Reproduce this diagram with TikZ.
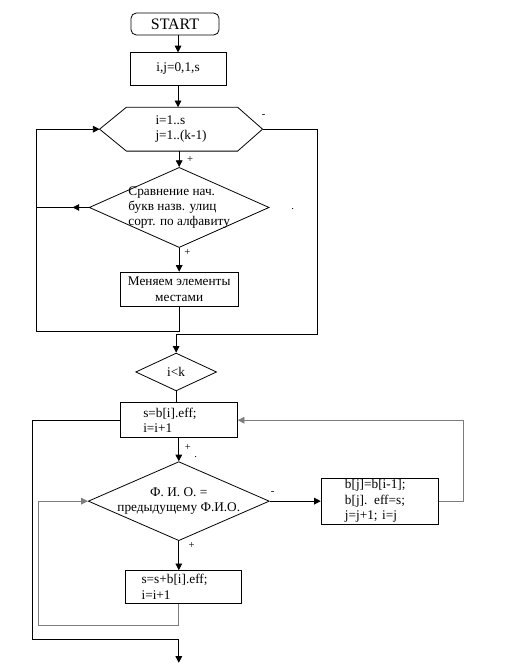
\documentclass[tikz,border=0pt]{standalone}
\usepackage{fontspec}
\setmainfont{Liberation Serif}
\usepackage{xcolor}
\usetikzlibrary{arrows.meta,positioning,shapes.geometric,decorations.markings}
\definecolor{loopgray}{RGB}{125,125,125}

\begin{document}
\begin{tikzpicture}[font=\fontsize{10}{11.6}\selectfont, line width=0.6pt,
  block/.style={draw, inner ysep=0.5pt, align=center},
  decis/.style={draw, diamond, inner sep=0pt},
  lbl/.style={font=\fontsize{8}{9}\selectfont, inner sep=0pt},
  arr/.style={-{Triangle[width=5pt,length=5pt]}},
  midarr/.style={postaction={decorate}, decoration={markings,
    mark=at position #1 with {\arrow{Triangle[width=5pt,length=5pt]}}}}]
  \useasboundingbox (-4.71,0.635) rectangle (9.155,-17.01);

  % upper part: sorting by street
  \node[block, rounded corners=4pt, minimum width=2.33cm, minimum height=0.58cm, font=\fontsize{12}{13}\selectfont]
    (start) at (-0.08,0) {START};
  \node[block, below=0.45cm of start, xshift=0.08cm, minimum width=2.54cm, minimum height=0.85cm]
    (init) {i,j=0,1,s};
  \node[below=0.58cm of init, xshift=0.08cm, minimum width=4.29cm, minimum height=1.14cm, align=left, inner sep=0pt]
    (hex) {i=1..s\\j=1..(k-1)};
  \draw (hex.west) -- ([xshift=0.71cm]hex.north west) -- ([xshift=-0.66cm]hex.north east) -- (hex.east)
    -- ([xshift=-0.66cm]hex.south east) -- ([xshift=0.71cm]hex.south west) -- cycle;
  \node[decis, below=0.42cm of hex, xshift=-0.05cm, minimum width=4.76cm, minimum height=2.12cm]
    (cmp) {};
  \node[align=left] (cmpt) at (cmp.center) {Сравнение нач.\\букв назв. улиц\\сорт. по алфавиту};
  \node[block, below=0.63cm of cmp, minimum width=3.12cm, minimum height=0.9cm]
    (swap) {Меняем элементы\\местами};
  \node[decis, below=1.22cm of swap, xshift=-0.08cm, minimum width=2.14cm, minimum height=1.0cm]
    (cond) {i<k};

  % lower part: summing by name
  \node[block, below=0.29cm of cond, xshift=0.07cm, minimum width=3.1cm, minimum height=0.93cm, align=left, text width=1.88cm, inner xsep=0.61cm]
    (sum) {s=b[i].eff;\\i=i+1};
  \node[decis, below=0.61cm of sum, minimum width=4.79cm, minimum height=2.09cm]
    (same) {};
  \node[align=center] (samet) at (same.center) {Ф. И. О. =\\предыдущему Ф.И.О.};
  \node[block, below=0.77cm of same, xshift=0.13cm, minimum width=3.07cm, minimum height=0.87cm, align=left, text width=2.23cm, inner xsep=0.42cm]
    (add) {s=s+b[i].eff;\\i=i+1};
  \node[block, right=1.35cm of same, minimum width=3.1cm, minimum height=1.22cm, align=left, text width=1.84cm, inner xsep=0.63cm]
    (shift) {b[j]=b[i-1];\\b[j]. eff=s;\\j=j+1; i=j};

  % branch marks
  \node[lbl] (m1) at ([shift={(0.03,0.34)}]hex.east) {-};
  \node[lbl] (p1) at ([shift={(0.29,0.21)}]cmp.north) {+};
  \node[lbl] (d1) at ([shift={(0.61,-0.05)}]cmp.east) {.};
  \node[lbl] (p2) at ([shift={(0.22,-0.13)}]cmp.south) {+};
  \node[lbl] (p3) at ([shift={(0.24,-0.24)}]sum.south) {+};
  \node[lbl] (d2) at ([shift={(0.45,-0.5)}]sum.south) {.};
  \node[lbl] (m2) at ([shift={(0.08,0.21)}]same.east) {-};
  \node[lbl] (p4) at ([shift={(0.34,-0.13)}]same.south) {+};

  % loop corners
  \coordinate (rt) at ([xshift=1.46cm]hex.east);
  \coordinate (rb) at ([yshift=-0.74cm]swap.south -| rt);
  \coordinate (lt) at ([xshift=-1.67cm]hex.west);
  \coordinate (lb) at ([yshift=-0.66cm]swap.south -| lt);
  \coordinate (ol) at ([xshift=-2.3cm]sum.west);
  \coordinate (ob) at ([yshift=-0.93cm]add.south -| ol);
  \coordinate (exit) at ([yshift=-1.56cm]add.south -| sum.south);
  \coordinate (il) at ([xshift=-1.32cm]same.west);
  \coordinate (ib) at ([yshift=-0.56cm]add.south -| same.south);
  \coordinate (rr) at ([xshift=0.66cm]shift.east);

  \draw[arr] (start.south -| init.north) -- (init.north);
  \draw[arr] (init.south) -- (init.south |- hex.north);
  \draw[arr] (cmp.north |- hex.south) -- (cmp.north);
  \draw[arr] (cmp.south) -- (cmp.south |- swap.north);
  \draw[midarr=0.31] (cmp.west) -- (cmp.west -| lt);
  \draw[arr] (swap.south) -- (swap.south |- lb) -- (lb) -- (lt) -- (hex.west);
  \draw[arr] (hex.east) -- (rt) -- (rb) -- (rb -| cond.north) -- (cond.north);
  \draw (cond.south) -- (cond.south |- sum.north);
  \draw[arr] (sum.south) -- (sum.south |- same.north);
  \draw[arr] (same.east) -- (shift.west);
  \draw[arr] (same.south) -- (same.south |- add.north);
  \draw[arr, loopgray] (shift.east) -- (rr) -- (rr |- sum.east) -- (sum.east);
  \draw[arr, loopgray] (add.south -| same.south) -- (ib) -- (ib -| il) -- (il) -- (same.west);
  \draw[arr] (sum.west) -- (ol) -- (ob) -- (ob -| exit) -- (exit);
\end{tikzpicture}
\end{document}
